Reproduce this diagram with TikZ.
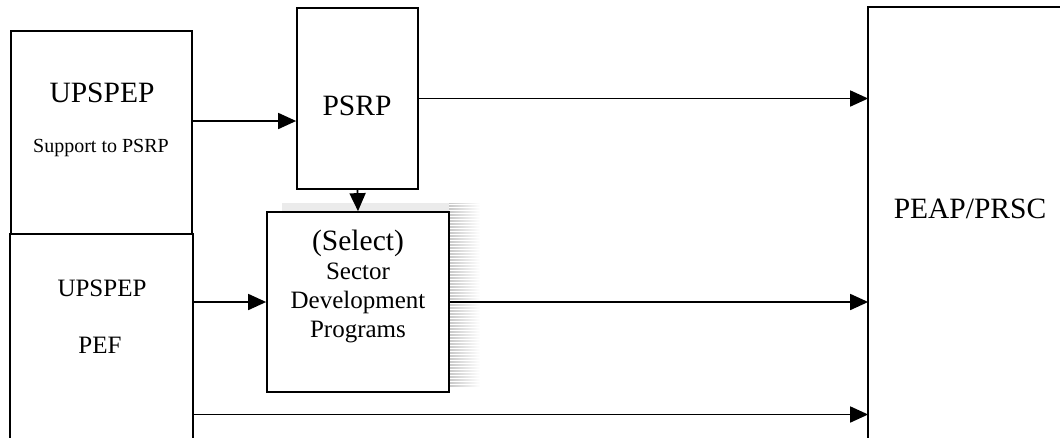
\documentclass[tikz,border=0pt]{standalone}
\usepackage{fontspec}
\setmainfont{Liberation Serif}
\usetikzlibrary{arrows.meta,calc}

\begin{document}
\begin{tikzpicture}[x=1pt,y=-1pt,line width=1.7pt,
  box/.style={draw,rectangle,inner sep=0pt,fill=white},
  frame/.style={rectangle,inner sep=0pt},
  arr/.style={-{Triangle[length=18pt,width=16pt]}},
  bigtxt/.style={font=\fontsize{29.5}{34}\selectfont,anchor=base,inner sep=0pt},
  midtxt/.style={font=\fontsize{25}{29}\selectfont,anchor=base,inner sep=0pt},
  smalltxt/.style={font=\fontsize{20}{24}\selectfont,anchor=base,inner sep=0pt}]
\useasboundingbox (0,0) rectangle (1060,437);
\clip (0,0) rectangle (1060,437);

% soft striped shadow behind the sector box
\shade[left color=black!22,right color=white,draw=none]
  (449,203) rectangle (480,386);
\fill[black!8] (282,203) rectangle (449,212);
\foreach \yy in {204,207,...,385}
  \draw[white,line width=0.7pt] (449,\yy) -- (480,\yy);

% boxes
\node[box,minimum width=181pt,minimum height=203pt] (ups) at (101.5,132.5) {};
\node[frame,minimum width=181pt,minimum height=203pt] (pef) at (101.5,335.5) {};
\draw (pef.north west) -- (pef.south west);
\draw (pef.north east) -- (pef.south east);
\node[box,minimum width=121pt,minimum height=181pt] (psrp) at (357.5,98.5) {};
\node[box,minimum width=182pt,minimum height=180pt] (sdp) at (358,302) {};
\node[frame,minimum width=211pt,minimum height=452pt] (peap) at (974.5,234) {};
\draw (peap.south west) -- (peap.north west) -- (peap.north east);

% labels
\node[bigtxt] (upsA) at (102,102) {UPSPEP};
\node[smalltxt] (upsB) at (101,152) {Support to PSRP};
\node[midtxt] (pefA) at (102,296) {UPSPEP};
\node[midtxt] (pefB) at (100,353) {PEF};
\node[bigtxt] (psrpT) at (357,115) {PSRP};
\node[bigtxt] (peapT) at (970,218) {PEAP/PRSC};
\node[bigtxt] (sdpA) at (358,250) {(Select)};
\node[midtxt] (sdpB) at (358,279) {Sector};
\node[midtxt] (sdpC) at (358,308) {Development};
\node[midtxt] (sdpD) at (358,337) {Programs};

% connectors
\draw[arr] ([yshift=11.5pt]ups.east) -- ([yshift=11.5pt]ups.east -| psrp.west);
\draw[arr] (psrp.east) -- (psrp.east -| peap.west);
\draw[arr] (psrp.south) -- (sdp.north);
\draw[arr] (pef.east |- sdp.west) -- (sdp.west);
\draw[arr] (sdp.east) -- (sdp.east -| peap.west);
\draw[arr] ([yshift=-79pt]pef.east) -- ([yshift=-79pt]pef.east -| peap.west);
\end{tikzpicture}
\end{document}
